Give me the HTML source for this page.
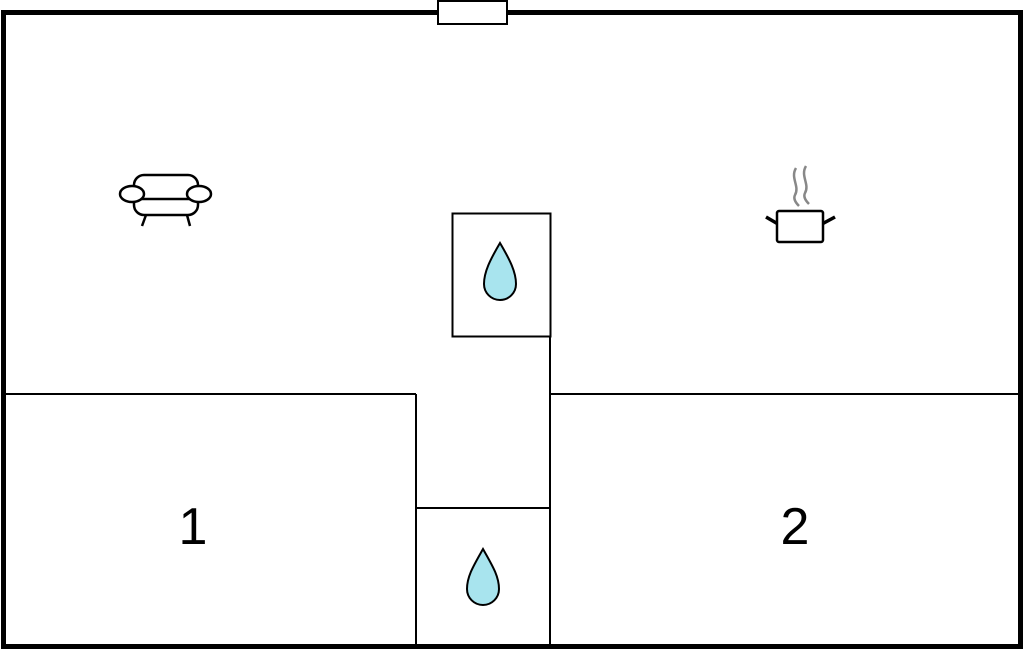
<!DOCTYPE html>
<html><head><style>html,body{margin:0;padding:0;background:#fff;width:1024px;height:651px;overflow:hidden}</style></head>
<body>
<svg width="1024" height="651" viewBox="0 0 1024 651" xmlns="http://www.w3.org/2000/svg">
<rect width="1024" height="651" fill="#fff"/>
<rect x="3.5" y="12.5" width="1017" height="634" fill="none" stroke="#000" stroke-width="5"/>
<rect x="438" y="1" width="69" height="23" fill="#fff" stroke="#000" stroke-width="2"/>
<g stroke="#000" stroke-width="2" fill="none">
<line x1="5" y1="394" x2="416" y2="394"/>
<line x1="416" y1="394" x2="416" y2="646"/>
<line x1="550" y1="336" x2="550" y2="646"/>
<line x1="550" y1="394" x2="1019" y2="394"/>
<line x1="416" y1="508" x2="550" y2="508"/>
<rect x="452.5" y="213.5" width="98" height="123"/>
</g>
<g fill="#a8e4ee" stroke="#000" stroke-width="2">
<path d="M500 243 C490 260 484 272 484 284 A16 16 0 0 0 516 284 C516 272 510 260 500 243 Z"/>
<path d="M483 549 C474 565 467 576 467 589 A16 16 0 0 0 499 589 C499 576 492 565 483 549 Z"/>
</g>
<text x="193" y="544" font-family="Liberation Sans, sans-serif" font-size="52" text-anchor="middle">1</text>
<text x="795" y="544" font-family="Liberation Sans, sans-serif" font-size="52" text-anchor="middle">2</text>
<g stroke="#000" stroke-width="2.5" fill="#fff">
<rect x="134" y="175" width="64" height="40" rx="10"/>
<line x1="141" y1="199" x2="191" y2="199"/>
<ellipse cx="132" cy="194" rx="12" ry="8"/>
<ellipse cx="199" cy="194" rx="12" ry="8"/>
<line x1="146" y1="215" x2="142" y2="226"/>
<line x1="187" y1="215" x2="190" y2="226"/>
</g>
<g stroke="#000" stroke-width="2.5" fill="#fff">
<line x1="766" y1="217" x2="778" y2="224" stroke-width="3.5"/>
<line x1="835" y1="217" x2="822" y2="224" stroke-width="3.5"/>
<rect x="777" y="211" width="46" height="31" rx="2"/>
</g>
<g stroke="#888" stroke-width="2.5" fill="none">
<path d="M796 168 C790 178 800 186 795 195 C793 199 796 203 799 206"/>
<path d="M806 166 C800 176 810 184 805 193 C803 197 806 201 809 204"/>
</g>
</svg>
</body></html>
